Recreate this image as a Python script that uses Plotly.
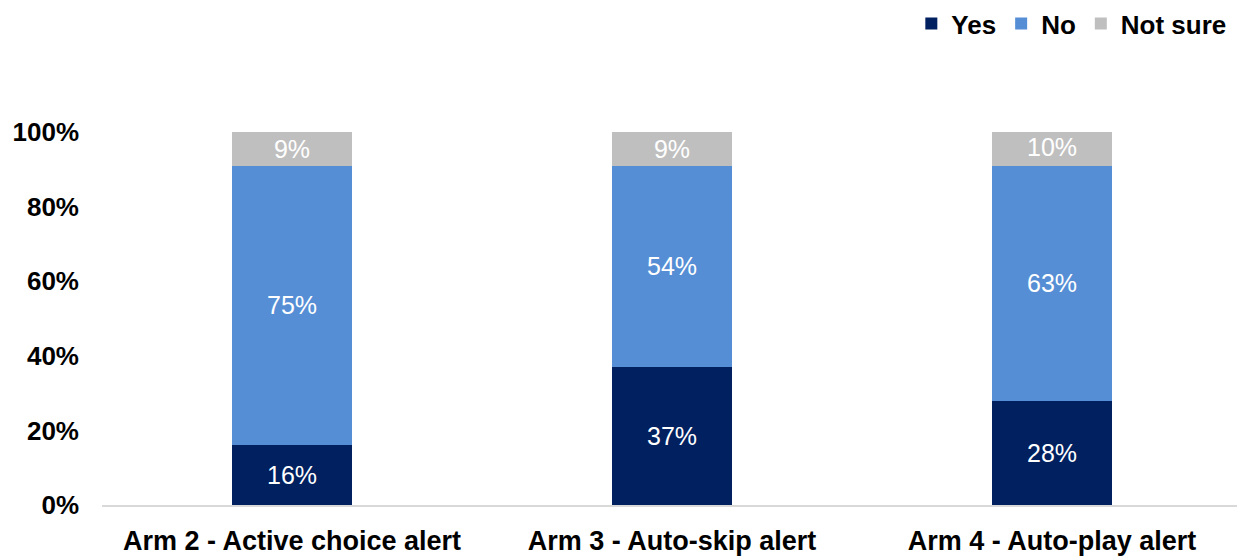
import plotly.graph_objects as go

# Survey responses by study arm (percent of respondents)
arms = ["Arm 2 - Active choice alert", "Arm 3 - Auto-skip alert", "Arm 4 - Auto-play alert"]
yes_pct = [16, 37, 28]
no_pct = [75, 54, 63]
not_sure_pct = [9, 9, 10]

y_ticks = [0, 20, 40, 60, 80, 100]
y_tick_labels = ["0%", "20%", "40%", "60%", "80%", "100%"]

series = [
    ("Yes", yes_pct, "#002060"),
    ("No", no_pct, "#558ED5"),
    ("Not sure", not_sure_pct, "#BFBFBF"),
]

FONT = "Liberation Sans, Arial, sans-serif"

fig = go.Figure()
for name, vals, color in series:
    fig.add_trace(go.Bar(
        name=name,
        x=arms,
        y=vals,
        marker=dict(color=color, line=dict(width=0)),
        width=0.316,
        text=[f"{v}%" for v in vals],
        textposition="inside",
        insidetextanchor="middle",
        textangle=0,
        textfont=dict(family=FONT, size=25, color="white"),
        constraintext="none",
        hoverinfo="skip",
    ))

fig.update_layout(
    barmode="stack",
    width=1237,
    height=556,
    margin=dict(l=102, r=0, t=132, b=48),
    paper_bgcolor="white",
    plot_bgcolor="white",
    font=dict(family=FONT, size=26, color="black"),
    legend=dict(
        orientation="h",
        x=0.995, xanchor="right",
        y=1.0, yanchor="top",
        yref="container",
        font=dict(size=26, color="black", family=FONT, weight="bold"),
        itemwidth=30,
        tracegroupgap=0,
        traceorder="normal",
        bgcolor="rgba(0,0,0,0)",
    ),
    xaxis=dict(
        range=[-0.5, -0.5 + 1135 / 380],
        showgrid=False,
        showline=True,
        linecolor="#D9D9D9",
        linewidth=2,
        ticks="",
        tickfont=dict(size=27, color="black", family=FONT, weight="bold"),
        ticklabelstandoff=11,
        fixedrange=True,
    ),
    yaxis=dict(
        range=[0, 100],
        tickvals=y_ticks,
        ticktext=y_tick_labels,
        showgrid=False,
        zeroline=False,
        showline=False,
        ticks="",
        tickfont=dict(size=26, color="black", family=FONT, weight="bold"),
        ticklabelstandoff=22,
        fixedrange=True,
    ),
)

fig.write_html("out.html")
